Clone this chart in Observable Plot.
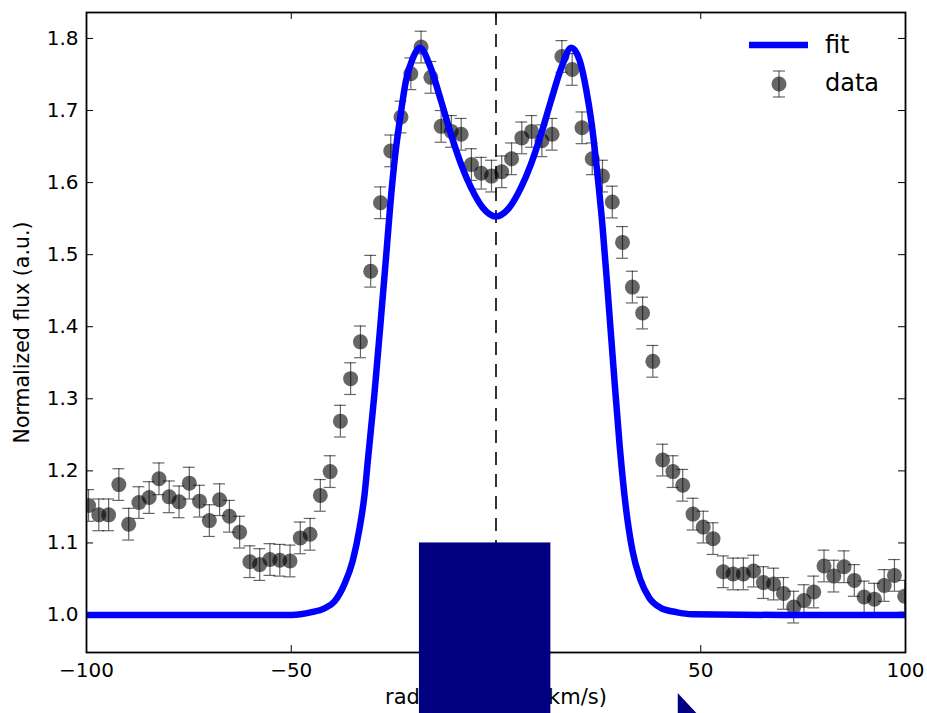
<!DOCTYPE html>
<html>
<head>
<meta charset="utf-8">
<script src="https://cdn.jsdelivr.net/npm/d3@7"></script>
<script src="https://cdn.jsdelivr.net/npm/@observablehq/plot@0.6"></script>
<style>
  html, body { margin: 0; padding: 0; background: #fff; overflow: hidden; }
  #chart svg { display: block; }
</style>
</head>
<body>
<div id="chart"></div>
<script>
// ---- data ----
const velocity = [-99.5,-97.0,-94.6,-92.1,-89.7,-87.2,-84.7,-82.3,-79.8,-77.4,-74.9,-72.4,-70.0,-67.5,-65.1,-62.6,-60.1,-57.7,-55.2,-52.8,-50.3,-47.8,-45.4,-42.9,-40.5,-38.0,-35.5,-33.1,-30.6,-28.2,-25.7,-23.2,-20.8,-18.3,-15.9,-13.4,-10.9,-8.5,-6.0,-3.6,-1.1,1.4,3.8,6.3,8.7,11.2,13.7,16.1,18.6,21.0,23.5,26.0,28.4,30.9,33.3,35.8,38.3,40.7,43.2,45.6,48.1,50.6,53.0,55.5,57.9,60.4,62.9,65.3,67.8,70.2,72.7,75.2,77.6,80.1,82.5,85.0,87.5,89.9,92.4,94.8,97.3,99.8];
const flux = [1.152,1.139,1.139,1.181,1.126,1.156,1.163,1.189,1.164,1.157,1.183,1.158,1.131,1.160,1.137,1.115,1.074,1.070,1.077,1.076,1.075,1.107,1.112,1.166,1.199,1.269,1.328,1.379,1.477,1.572,1.644,1.691,1.751,1.788,1.746,1.678,1.671,1.667,1.625,1.613,1.609,1.615,1.633,1.662,1.671,1.658,1.667,1.775,1.757,1.676,1.633,1.609,1.573,1.517,1.455,1.419,1.352,1.215,1.199,1.180,1.140,1.122,1.106,1.060,1.057,1.057,1.061,1.045,1.043,1.030,1.011,1.020,1.032,1.068,1.054,1.067,1.048,1.025,1.022,1.041,1.055,1.026];
const fluxError = 0.022;

const fitVelocity = [-100,-70,-50,-45,-42,-39.4,-37.0,-35.0,-33.3,-32.1,-31.3,-30.5,-29.7,-29.0,-28.3,-26.8,-25.8,-24.6,-23.3,-22.0,-20.3,-18.6,-16.0,-13.4,-11.0,-8.5,-6.1,-3.2,0,3.2,6.1,8.5,11.0,13.4,16.0,18.4,20.4,22.0,23.4,24.8,26.0,27.4,28.8,30.2,31.7,33.3,35.2,37.4,40.2,44.0,48.0,70,100];
const fitFlux =     [1.0,1.0,1.0,1.004,1.009,1.019,1.043,1.075,1.121,1.167,1.214,1.260,1.306,1.352,1.398,1.500,1.570,1.639,1.694,1.741,1.773,1.787,1.760,1.713,1.667,1.625,1.593,1.565,1.553,1.565,1.593,1.625,1.667,1.713,1.760,1.787,1.770,1.730,1.680,1.610,1.540,1.440,1.335,1.235,1.150,1.090,1.050,1.024,1.010,1.004,1.001,1.0,1.0];

const xTicks = [-100, -50, 0, 50, 100];
const xTickLabels = ["−100", "−50", "0", "50", "100"];
const yTicks = [1.0, 1.1, 1.2, 1.3, 1.4, 1.5, 1.6, 1.7, 1.8];
const xLabel = "radial velocity (km/s)";
const yLabel = "Normalized flux (a.u.)";
const legendLabels = ["fit", "data"];
const centerVelocity = [0];

// overlay shapes (navy) seen on top of the reference
const overlayRect = [{x1: -18.7, x2: 13.4, y1: 1.1, y2: 0.863}];
const overlayTriX = [44.5, 49.1];
const overlayTriTop = [0.891, 0.863];
const overlayTriBottom = [0.863, 0.863];

// ---- build ----
const points = velocity.map((v, i) => ({x: v, y: flux[i]}));
const fit = fitVelocity.map((v, i) => ({x: v, y: fitFlux[i]}));
const tri = overlayTriX.map((v, i) => ({x: v, y1: overlayTriBottom[i], y2: overlayTriTop[i]}));

const W = 927, H = 713;
const mL = 86, mR = 22, mT = 12, mB = 61;
const fw = W - mL - mR, fh = H - mT - mB;
const tickLen = 7;
const capHalf = 1.45; // km/s, half width of error bar caps
const ink = "black";

function legend(index, scales, values, dims) {
  const g = d3.create("svg:g")
    .attr("font-family", "DejaVu Sans, sans-serif")
    .attr("text-anchor", "start");
  g.append("line").attr("x1", 749).attr("x2", 808).attr("y1", 45).attr("y2", 45)
    .attr("stroke", "#0000ff").attr("stroke-width", 6.5);
  g.append("text").attr("x", 825).attr("y", 46).attr("dominant-baseline", "middle")
    .attr("text-anchor", "start").attr("font-size", 24).attr("fill", ink).text(legendLabels[0]);
  const mx = 779, my = 84;
  g.append("line").attr("x1", mx).attr("x2", mx).attr("y1", my - 13).attr("y2", my + 13)
    .attr("stroke", ink).attr("stroke-opacity", 0.6).attr("stroke-width", 1.2);
  g.append("line").attr("x1", mx - 6).attr("x2", mx + 6).attr("y1", my - 13).attr("y2", my - 13)
    .attr("stroke", ink).attr("stroke-opacity", 0.6).attr("stroke-width", 1.2);
  g.append("line").attr("x1", mx - 6).attr("x2", mx + 6).attr("y1", my + 13).attr("y2", my + 13)
    .attr("stroke", ink).attr("stroke-opacity", 0.6).attr("stroke-width", 1.2);
  g.append("circle").attr("cx", mx).attr("cy", my).attr("r", 7.5)
    .attr("fill", ink).attr("fill-opacity", 0.6);
  g.append("text").attr("x", 825).attr("y", 84).attr("dominant-baseline", "middle")
    .attr("text-anchor", "start").attr("font-size", 24).attr("fill", ink).text(legendLabels[1]);
  return g.node();
}

const chart = Plot.plot({
  width: W, height: H,
  marginLeft: mL, marginRight: mR, marginTop: mT, marginBottom: mB,
  style: {fontFamily: "DejaVu Sans, sans-serif", fontSize: "20px", color: "black", background: "white"},
  x: {domain: [-100, 100], axis: null},
  y: {domain: [0.948, 1.836], axis: null},
  marks: [
    // tick labels
    Plot.axisX(xTicks, {anchor: "bottom", tickSize: 0, tickPadding: 10, tickFormat: (d, i) => xTickLabels[i], label: null, fontSize: 20}),
    Plot.axisY(yTicks, {anchor: "left", tickSize: 0, tickPadding: 8, tickFormat: d => d.toFixed(1), label: null, fontSize: 20}),
    // inward ticks on all four sides
    Plot.tickX(xTicks, {x: d => d, insetTop: fh - tickLen, stroke: ink, strokeWidth: 1}),
    Plot.tickX(xTicks, {x: d => d, insetBottom: fh - tickLen, stroke: ink, strokeWidth: 1}),
    Plot.tickY(yTicks, {y: d => d, insetRight: fw - tickLen, stroke: ink, strokeWidth: 1}),
    Plot.tickY(yTicks, {y: d => d, insetLeft: fw - tickLen, stroke: ink, strokeWidth: 1}),
    // center dashed line
    Plot.ruleX(centerVelocity, {stroke: ink, strokeWidth: 1.6, strokeDasharray: "13,9"}),
    // data with error bars
    Plot.dot(points, {x: "x", y: "y", r: 7.5, fill: ink, fillOpacity: 0.6, stroke: "none", clip: true}),
    Plot.ruleX(points, {x: "x", y1: d => d.y - fluxError, y2: d => d.y + fluxError, stroke: ink, strokeOpacity: 0.6, strokeWidth: 1.2, clip: true}),
    Plot.ruleY(points, {y: d => d.y + fluxError, x1: d => d.x - capHalf, x2: d => d.x + capHalf, stroke: ink, strokeOpacity: 0.6, strokeWidth: 1.2, clip: true}),
    Plot.ruleY(points, {y: d => d.y - fluxError, x1: d => d.x - capHalf, x2: d => d.x + capHalf, stroke: ink, strokeOpacity: 0.6, strokeWidth: 1.2, clip: true}),
    // fit
    Plot.line(fit, {x: "x", y: "y", stroke: "#0000ff", strokeWidth: 6.5, curve: "monotone-x", clip: true}),
    // frame
    Plot.frame({stroke: ink, strokeWidth: 1.8}),
    // axis titles
    Plot.text([xLabel], {frameAnchor: "bottom", dy: 51, textAnchor: "middle", fontSize: 21, fill: ink}),
    Plot.text([yLabel], {frameAnchor: "left", dx: -64, dy: 0, rotate: -90, textAnchor: "middle", fontSize: 20.5, fill: ink}),
    // legend
    legend,
    // navy overlays
    Plot.rect(overlayRect, {x1: "x1", x2: "x2", y1: "y1", y2: "y2", fill: "#000080", clip: false}),
    Plot.areaY(tri, {x: "x", y1: "y1", y2: "y2", fill: "#000080"})
  ]
});
document.getElementById("chart").appendChild(chart);
</script>
</body>
</html>
